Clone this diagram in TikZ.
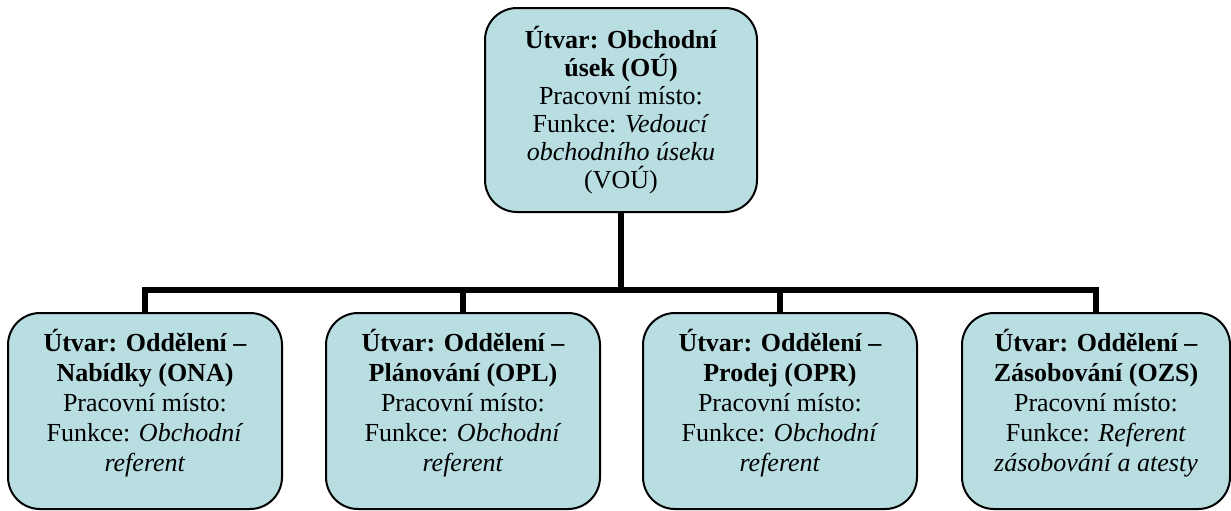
\documentclass[tikz,border=0pt]{standalone}
\usepackage{fontspec}
\setmainfont{Liberation Serif}

\definecolor{unitfill}{RGB}{184,222,226}

\tikzstyle{unit}=[draw, line width=1pt, rounded corners=16pt, fill=unitfill, inner sep=0pt, font=\fontsize{13}{15}\selectfont]
\tikzstyle{head}=[unit, minimum width=136pt, minimum height=102pt]
\tikzstyle{dept}=[unit, minimum width=137pt, minimum height=98pt]
\tikzstyle{link}=[line width=3pt]

\newcommand{\headtext}[1]{\parbox[c][102pt][c]{130pt}{\centering\fontsize{13}{14}\selectfont #1}}
\newcommand{\depttext}[1]{\parbox[c][98pt][t]{132pt}{\centering\vspace*{8pt}#1}}

\begin{document}
\begin{tikzpicture}[x=0.5pt, y=-0.5pt]
    \useasboundingbox (0,0) rectangle (1231,510);

    \node[head] (ou)  at (621, 110) {\headtext{\textbf{Útvar: Obchodní}\\ \textbf{úsek (OÚ)}\\ Pracovní místo:\\ Funkce: \textit{Vedoucí}\\ \textit{obchodního úseku}\\ (VOÚ)}};

    \node[dept] (ona) at (145, 411) {\depttext{\textbf{Útvar: Oddělení –}\\ \textbf{Nabídky (ONA)}\\ Pracovní místo:\\ Funkce: \textit{Obchodní}\\ \textit{referent}}};
    \node[dept] (opl) at (463, 411) {\depttext{\textbf{Útvar: Oddělení –}\\ \textbf{Plánování (OPL)}\\ Pracovní místo:\\ Funkce: \textit{Obchodní}\\ \textit{referent}}};
    \node[dept] (opr) at (780, 411) {\depttext{\textbf{Útvar: Oddělení –}\\ \textbf{Prodej (OPR)}\\ Pracovní místo:\\ Funkce: \textit{Obchodní}\\ \textit{referent}}};
    \node[dept, minimum width=134pt] (ozs) at (1096, 411) {\depttext{\textbf{Útvar: Oddělení –}\\ \textbf{Zásobování (OZS)}\\ Pracovní místo:\\ Funkce: \textit{Referent}\\ \textit{zásobování a atesty}}};

    \coordinate (bus) at (621, 290);
    \draw[link] (ou.south) -- (bus);
    \draw[link] (ona.north) |- (ozs.north |- bus) -- (ozs.north);
    \draw[link] (opl.north) -- (opl.north |- bus);
    \draw[link] (opr.north) -- (opr.north |- bus);
  \end{tikzpicture}
\end{document}
